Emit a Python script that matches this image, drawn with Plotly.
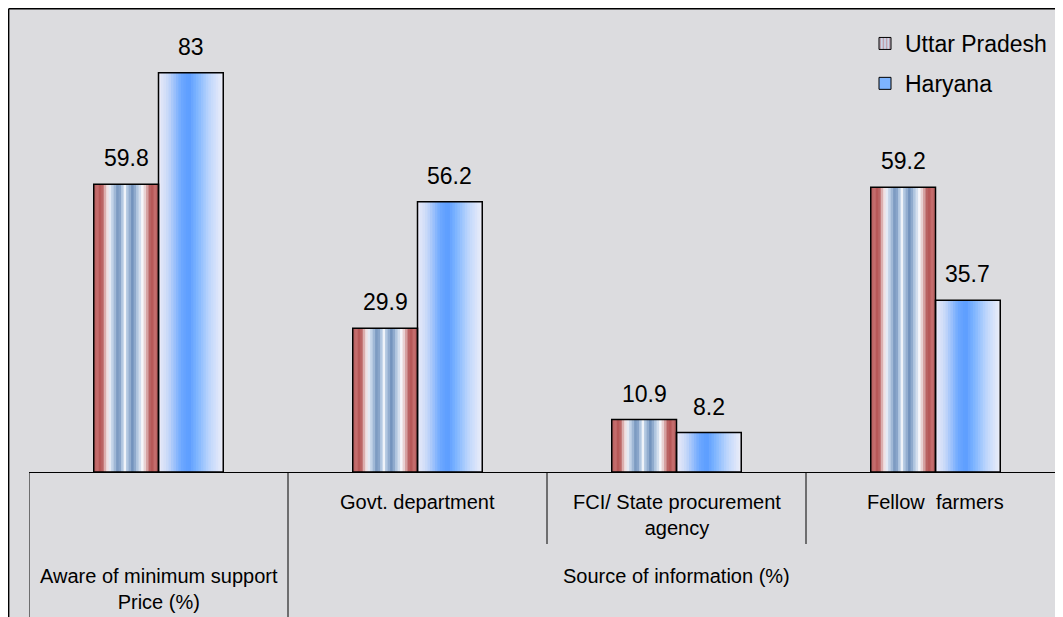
import plotly.graph_objects as go

# ---------------- data ----------------
categories = ["Aware of minimum support Price (%)", "Govt. department",
              "FCI/ State procurement agency", "Fellow farmers"]
series_names = ["Uttar Pradesh", "Haryana"]
up_values = [59.8, 29.9, 10.9, 59.2]
hr_values = [83, 56.2, 8.2, 35.7]
inner_labels = ["", "Govt. department", "FCI/ State procurement<br>agency", "Fellow  farmers"]
outer_labels = ["Aware of minimum support<br>Price (%)", "Source of information (%)"]
outer_label_pos = [0, 2]

# ---------------- geometry / style ----------------
# the page body adds an 8px margin, so the figure is sized to fit the window
OFF = 8
W, H = 1063 - OFF, 617 - OFF
L, R, T, B = 21, 0, 0, 145
PW, PH = W - L - R, H - T - B
CAT_PX = 259.0
PX_PER_UNIT = 4.81
BAR_W = 0.25
FONT = "Liberation Sans, Arial, sans-serif"
MARBLE = "#dcdcdf"

def py2paper(py):
    return (H - B - py) / PH

def px2paper(px):
    return (px - L) / PW

def hex2rgb(h):
    h = h.lstrip('#')
    return tuple(int(h[i:i + 2], 16) for i in (0, 2, 4))

def grad(stops, t):
    for (t0, c0), (t1, c1) in zip(stops[:-1], stops[1:]):
        if t0 <= t <= t1:
            f = 0 if t1 == t0 else (t - t0) / (t1 - t0)
            a, b = hex2rgb(c0), hex2rgb(c1)
            return "rgb(%d,%d,%d)" % tuple(round(a[k] + (b[k] - a[k]) * f) for k in range(3))
    return stops[-1][1]

up_stops = [(0.00, "#b86060"), (0.06, "#c46c6c"), (0.12, "#ae4a4a"), (0.18, "#e2bcbc"),
            (0.23, "#f6f6fa"), (0.30, "#b8cce4"), (0.38, "#7090bb"), (0.44, "#b0c6e0"),
            (0.48, "#f0f4fa"), (0.52, "#b0c6e0"), (0.60, "#7090bb"), (0.68, "#b8cce4"),
            (0.75, "#f6f6fa"), (0.81, "#e2bcbc"), (0.88, "#ae4a4a"), (0.94, "#c46c6c"),
            (1.00, "#b86060")]
hr_stops = [(0.00, "#ececf8"), (0.15, "#c6d8f8"), (0.35, "#6ea8ff"), (0.47, "#5c9dff"),
            (0.60, "#80b6ff"), (0.80, "#c2d8fc"), (1.00, "#eeeef8")]

xs = list(range(len(categories)))
N = 26
fig = go.Figure()

for vals, stops, base in [(up_values, up_stops, -BAR_W), (hr_values, hr_stops, 0.0)]:
    w = BAR_W / N
    for i in range(N):
        t = (i + 0.5) / N
        fig.add_trace(go.Bar(
            x=xs, y=vals, width=(w * 1.6 if i < N - 1 else w), offset=base + i * w,
            marker=dict(color=grad(stops, t), line=dict(width=0)),
            showlegend=False, hoverinfo="skip"))

# outlines
for vals, base in [(up_values, -BAR_W), (hr_values, 0.0)]:
    fig.add_trace(go.Bar(
        x=xs, y=vals, width=BAR_W, offset=base,
        marker=dict(color="rgba(0,0,0,0)", line=dict(color="black", width=1.5)),
        showlegend=False, hoverinfo="skip"))

# legend entries
fig.add_trace(go.Bar(x=[None], y=[None], name=series_names[0], legendgroup="up",
                     marker=dict(color="#a8bedc", line=dict(color="black", width=1),
                                 pattern=dict(shape="|", fgcolor="#b85050", bgcolor="#c8d6ea",
                                              size=4, solidity=0.4))))
fig.add_trace(go.Bar(x=[None], y=[None], name=series_names[1], legendgroup="hr",
                     marker=dict(color="#7db4ff", line=dict(color="black", width=1))))

annotations = []
# value labels
for vals, dx in [(up_values, -BAR_W / 2), (hr_values, BAR_W / 2)]:
    for i, v in enumerate(vals):
        annotations.append(dict(x=xs[i] + dx, y=v, xref="x", yref="y", text=f"{v:g}",
                                showarrow=False, yanchor="bottom", yshift=11,
                                font=dict(family=FONT, size=23, color="black")))
# category labels (inner row)
for i, lab in enumerate(inner_labels):
    if lab:
        annotations.append(dict(x=xs[i], y=py2paper(481), xref="x", yref="paper", text=lab,
                                showarrow=False, yanchor="top",
                                font=dict(family=FONT, size=20, color="black")))
# group labels (outer row)
for pos, lab in zip(outer_label_pos, outer_labels):
    annotations.append(dict(x=xs[pos], y=py2paper(555), xref="x", yref="paper", text=lab,
                            showarrow=False, yanchor="top",
                            font=dict(family=FONT, size=20, color="black")))

shapes = [
    # chart-area background and border
    dict(type="rect", xref="paper", yref="paper", x0=px2paper(0), x1=px2paper(W + 5),
         y0=py2paper(H + 5), y1=py2paper(0), fillcolor=MARBLE, line=dict(width=0), layer="below"),
    dict(type="line", xref="paper", yref="paper", x0=px2paper(0.7), x1=px2paper(W + 5),
         y0=py2paper(0.7), y1=py2paper(0.7), line=dict(color="black", width=1.4)),
    dict(type="line", xref="paper", yref="paper", x0=px2paper(0.7), x1=px2paper(0.7),
         y0=py2paper(0.7), y1=py2paper(H + 5), line=dict(color="black", width=1.4)),
]
# category dividers
for i in xs:
    bottom = H + 5 if i < 2 else 536
    shapes.append(dict(type="line", xref="x", yref="paper", x0=i - 0.5, x1=i - 0.5,
                       y0=0, y1=py2paper(bottom), line=dict(color="black", width=1)))

fig.update_layout(
    width=W, height=H, barmode="overlay",
    margin=dict(l=L, r=R, t=T, b=B, autoexpand=False),
    paper_bgcolor="white", plot_bgcolor="rgba(0,0,0,0)",
    xaxis=dict(range=[-0.5, -0.5 + PW / CAT_PX], showticklabels=False, ticks="",
               showgrid=False, zeroline=False, showline=True, linecolor="black", linewidth=1.3,
               fixedrange=True),
    yaxis=dict(range=[0, PH / PX_PER_UNIT], visible=False, showgrid=False, fixedrange=True),
    legend=dict(x=px2paper(857), y=py2paper(14), xanchor="left", yanchor="top",
                traceorder="grouped", tracegroupgap=7,
                bgcolor="rgba(0,0,0,0)", font=dict(family=FONT, size=23, color="black")),
    annotations=annotations, shapes=shapes, showlegend=True,
)

fig.write_html("out.html")
